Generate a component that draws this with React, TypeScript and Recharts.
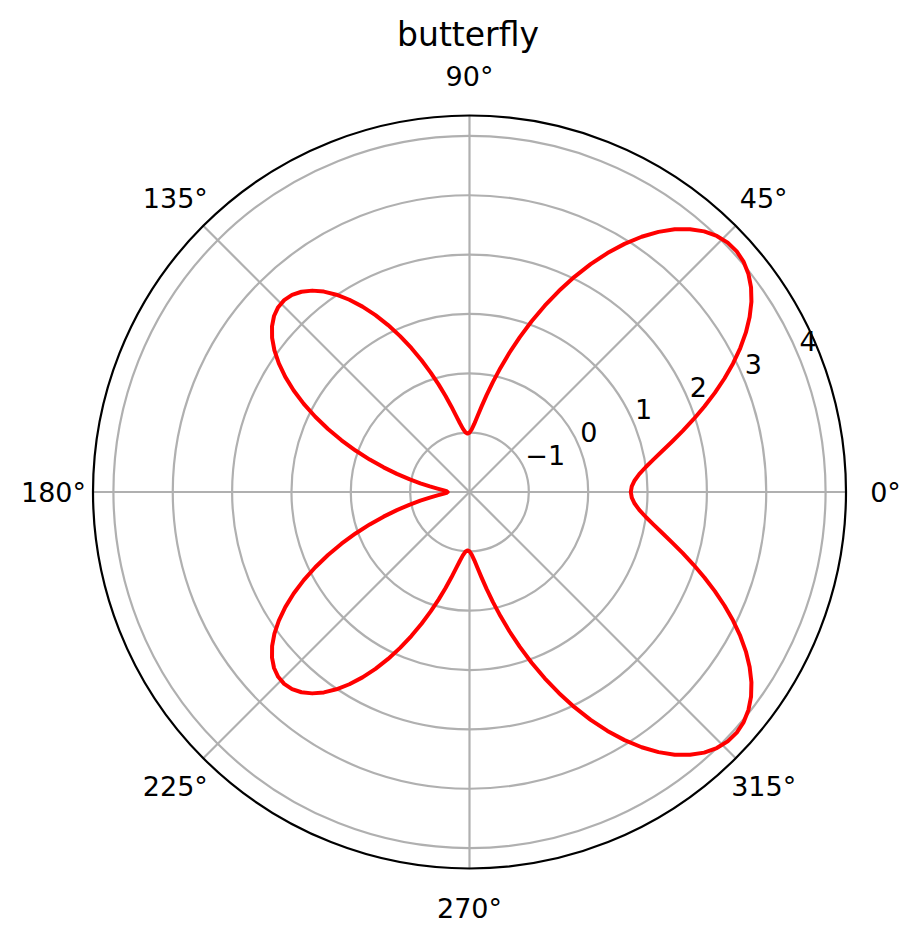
import { RadarChart, PolarGrid, PolarAngleAxis, PolarRadiusAxis, Radar } from "recharts";

// angle in degrees, r
const angles = [
  0, 2, 4, 6, 8, 10, 12, 14, 16, 18, 20, 22, 24, 26, 28, 30, 32, 34, 36, 38,
  40, 42, 44, 46, 48, 50, 52, 54, 56, 58, 60, 62, 64, 66, 68, 70, 72, 74, 76, 78,
  80, 82, 84, 86, 88, 90, 92, 94, 96, 98, 100, 102, 104, 106, 108, 110, 112, 114, 116, 118,
  120, 122, 124, 126, 128, 130, 132, 134, 136, 138, 140, 142, 144, 146, 148, 150, 152, 154, 156, 158,
  160, 162, 164, 166, 168, 170, 172, 174, 176, 178, 180, 182, 184, 186, 188, 190, 192, 194, 196, 198,
  200, 202, 204, 206, 208, 210, 212, 214, 216, 218, 220, 222, 224, 226, 228, 230, 232, 234, 236, 238,
  240, 242, 244, 246, 248, 250, 252, 254, 256, 258, 260, 262, 264, 266, 268, 270, 272, 274, 276, 278,
  280, 282, 284, 286, 288, 290, 292, 294, 296, 298, 300, 302, 304, 306, 308, 310, 312, 314, 316, 318,
  320, 322, 324, 326, 328, 330, 332, 334, 336, 338, 340, 342, 344, 346, 348, 350, 352, 354, 356, 358,
];

const radii = [
  0.718, 0.736, 0.789, 0.876, 0.996, 1.145, 1.321, 1.52, 1.738, 1.97,
  2.212, 2.458, 2.702, 2.941, 3.167, 3.378, 3.566, 3.73, 3.864, 3.965,
  4.031, 4.059, 4.048, 3.998, 3.909, 3.781, 3.617, 3.418, 3.188, 2.93,
  2.649, 2.348, 2.034, 1.711, 1.385, 1.061, 0.744, 0.441, 0.155, -0.107,
  -0.342, -0.547, -0.717, -0.85, -0.945, -1.0, -1.015, -0.99, -0.926, -0.826,
  -0.692, -0.526, -0.333, -0.118, 0.116, 0.363, 0.618, 0.875, 1.129, 1.375,
  1.607, 1.82, 2.01, 2.174, 2.306, 2.405, 2.468, 2.495, 2.482, 2.432,
  2.344, 2.221, 2.063, 1.875, 1.66, 1.421, 1.163, 0.891, 0.61, 0.326,
  0.043, -0.232, -0.494, -0.739, -0.962, -1.159, -1.325, -1.457, -1.554, -1.613,
  -1.632, -1.613, -1.554, -1.457, -1.325, -1.159, -0.962, -0.739, -0.494, -0.232,
  0.043, 0.326, 0.61, 0.891, 1.163, 1.421, 1.66, 1.875, 2.063, 2.221,
  2.344, 2.432, 2.482, 2.495, 2.468, 2.405, 2.306, 2.174, 2.01, 1.82,
  1.607, 1.375, 1.129, 0.875, 0.618, 0.363, 0.116, -0.118, -0.333, -0.526,
  -0.692, -0.826, -0.926, -0.99, -1.015, -1.0, -0.945, -0.85, -0.717, -0.547,
  -0.342, -0.107, 0.155, 0.441, 0.744, 1.061, 1.385, 1.711, 2.034, 2.348,
  2.649, 2.93, 3.188, 3.418, 3.617, 3.781, 3.909, 3.998, 4.048, 4.059,
  4.031, 3.965, 3.864, 3.73, 3.566, 3.378, 3.167, 2.941, 2.702, 2.458,
  2.212, 1.97, 1.738, 1.52, 1.321, 1.145, 0.996, 0.876, 0.789, 0.736,
];

const angleTicks = [0, 45, 90, 135, 180, 225, 270, 315];
const radiusTicks = [-1, 0, 1, 2, 3, 4];
const radiusDomain = [-1.917, 4.344];
const chartTitle = "butterfly";

const data = angles.map((angle, i) => ({ angle, r: radii[i] }));

const FONT = "'DejaVu Sans', sans-serif";

function AngleTick(props: any) {
  const { x, y, payload } = props;
  return (
    <text x={x} y={y + 10} textAnchor="middle" fontSize={27} fontFamily={FONT} fill="#000">
      {`${payload.value}°`}
    </text>
  );
}

function RadiusTick(props: any) {
  const { x, y, payload } = props;
  const v = Number(payload.value);
  const label = v < 0 ? `\u2212${Math.abs(v)}` : `${v}`;
  return (
    <text x={x + 1} y={y - 4.5} textAnchor="start" fontSize={27} fontFamily={FONT} fill="#000">
      {label}
    </text>
  );
}

export default function App() {
  return (
    <div style={{ position: "absolute", left: 0, top: 0, width: 922, height: 943, background: "#fff" }}>
      <RadarChart
        width={922}
        height={943}
        data={data}
        cx={469.5}
        cy={492}
        innerRadius={0}
        outerRadius={376.5}
        startAngle={0}
        endAngle={360}
        margin={{ top: 0, right: 0, bottom: 0, left: 0 }}
        style={{ position: "absolute", left: 0, top: 0 }}
      >
        <PolarGrid gridType="circle" stroke="#b0b0b0" strokeWidth={2.2} />
        <PolarAngleAxis
          dataKey="angle"
          type="number"
          domain={[0, 360]}
          ticks={angleTicks}
          tick={(p: any) => <AngleTick {...p} />}
          tickLine={false}
          tickSize={39.5}
          axisLine={{ stroke: "#000", strokeWidth: 2.2 }}
          axisLineType="circle"
        />
        <PolarRadiusAxis
          angle={22.5}
          type="number"
          domain={radiusDomain}
          ticks={radiusTicks}
          allowDataOverflow
          tick={(p: any) => <RadiusTick {...p} />}
          axisLine={false}
          tickLine={false}
        />
        <Radar
          dataKey="r"
          stroke="#ff0000"
          strokeWidth={4}
          strokeLinejoin="round"
          fill="none"
          fillOpacity={0}
          dot={false}
          isAnimationActive={false}
        />
      </RadarChart>
      <svg width={922} height={80} style={{ position: "absolute", left: 0, top: 0 }}>
        <text x={468} y={46} textAnchor="middle" fontSize={33} fontFamily={FONT} fill="#000">
          {chartTitle}
        </text>
      </svg>
    </div>
  );
}
